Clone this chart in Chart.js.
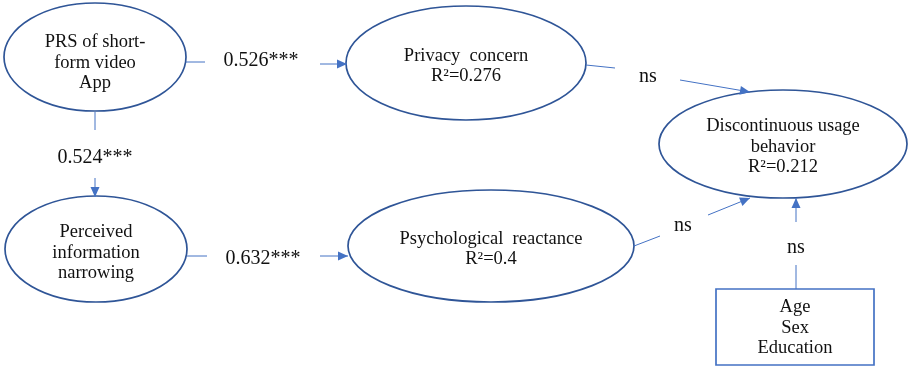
<!DOCTYPE html>
<html>
<head>
<meta charset="utf-8">
<script src="https://cdn.jsdelivr.net/npm/chart.js@4"></script>
<style>
  body { margin: 0; background: #fff; }
  #wrap { width: 908px; height: 368px; }
</style>
</head>
<body>
<div id="wrap"><canvas id="diagram" width="908" height="368"></canvas></div>
<script>
// nodes of the path model (diagram units = picture pixels)
const nodeNames = [
  ["PRS of short-", "form video", "App"],
  ["Perceived", "information", "narrowing"],
  ["Privacy  concern", "R²=0.276"],
  ["Psychological  reactance", "R²=0.4"],
  ["Discontinuous usage", "behavior", "R²=0.212"],
  ["Age", "Sex", "Education"]
];
const nodeX = [95, 96, 466, 491, 783, 795];
const nodeY = [57, 249, 63, 246, 144, 327];
const nodeTextY = [63, 253, 66, 249, 147, 328];
const nodeRx = [91, 91, 120, 143, 124, 79];
const nodeRy = [54, 53, 57, 56, 54, 38];
const nodeShape = ["ellipse", "ellipse", "ellipse", "ellipse", "ellipse", "box"];

// paths: label + two segments broken around the label
const pathLabels = ["0.526***", "0.524***", "0.632***", "ns", "ns", "ns"];
const labelX = [261, 95, 263, 648, 683, 796];
const labelY = [61, 158, 259, 77, 226, 248];
const seg1 = [[186, 62, 205, 62], [95, 112, 95, 130], [187, 256, 207, 256],
              [586, 65, 615, 68], [634, 246, 660, 236], [796, 289, 796, 265]];
const seg2 = [[320, 64, 347, 64], [95, 178, 95, 197], [320, 256, 348, 256],
              [680, 80, 750, 92], [708, 215, 750, 198], [796, 222, 796, 198]];

const lineBlue = "#4472C4";
const shapeBlue = "#2F5597";

const diagramPlugin = {
  id: "pathDiagram",
  afterDraw(chart) {
    const ctx = chart.ctx;
    const xs = chart.scales.x, ys = chart.scales.y;
    const px = v => xs.getPixelForValue(v);
    const py = v => ys.getPixelForValue(v);
    ctx.save();

    // shapes
    nodeNames.forEach((lines, i) => {
      const cx = px(nodeX[i]), cy = py(nodeY[i]);
      const rx = px(nodeX[i] + nodeRx[i]) - cx;
      const ry = py(nodeY[i] + nodeRy[i]) - cy;
      ctx.beginPath();
      if (nodeShape[i] === "box") {
        ctx.rect(cx - rx, cy - ry, rx * 2, ry * 2);
        ctx.strokeStyle = lineBlue;
      } else {
        ctx.ellipse(cx, cy, Math.abs(rx), Math.abs(ry), 0, 0, Math.PI * 2);
        ctx.strokeStyle = shapeBlue;
      }
      ctx.lineWidth = 1.7;
      ctx.stroke();

      ctx.fillStyle = "#111";
      ctx.font = "18.5px 'Liberation Serif', 'Times New Roman', serif";
      ctx.textAlign = "center";
      ctx.textBaseline = "middle";
      const step = 20.5;
      const top = py(nodeTextY[i]) - (lines.length - 1) * step / 2;
      lines.forEach((t, k) => ctx.fillText(t, cx, top + k * step));
    });

    // paths
    ctx.strokeStyle = lineBlue;
    ctx.fillStyle = lineBlue;
    ctx.lineWidth = 1;
    pathLabels.forEach((lab, i) => {
      [seg1[i], seg2[i]].forEach(s => {
        ctx.beginPath();
        ctx.moveTo(px(s[0]), py(s[1]));
        ctx.lineTo(px(s[2]), py(s[3]));
        ctx.stroke();
      });
      // arrow head at the end of the second segment
      const s = seg2[i];
      const x2 = px(s[2]), y2 = py(s[3]);
      const a = Math.atan2(y2 - py(s[1]), x2 - px(s[0]));
      const len = 10, half = 4.5;
      ctx.beginPath();
      ctx.moveTo(x2, y2);
      ctx.lineTo(x2 - len * Math.cos(a) + half * Math.sin(a), y2 - len * Math.sin(a) - half * Math.cos(a));
      ctx.lineTo(x2 - len * Math.cos(a) - half * Math.sin(a), y2 - len * Math.sin(a) + half * Math.cos(a));
      ctx.closePath();
      ctx.fill();

      ctx.save();
      ctx.fillStyle = "#111";
      ctx.font = "20px 'Liberation Serif', 'Times New Roman', serif";
      ctx.textAlign = "center";
      ctx.textBaseline = "middle";
      ctx.fillText(lab, px(labelX[i]), py(labelY[i]));
      ctx.restore();
    });
    ctx.restore();
  }
};

new Chart(document.getElementById("diagram"), {
  type: "scatter",
  data: {
    datasets: [{
      data: nodeX.map((x, i) => ({ x: x, y: nodeY[i] })),
      pointRadius: 0
    }]
  },
  options: {
    responsive: false,
    animation: false,
    layout: { padding: 0 },
    plugins: { legend: { display: false }, tooltip: { enabled: false } },
    scales: {
      x: { type: "linear", min: 0, max: 908, display: false },
      y: { type: "linear", min: 0, max: 368, reverse: true, display: false }
    }
  },
  plugins: [diagramPlugin]
});
</script>
</body>
</html>
